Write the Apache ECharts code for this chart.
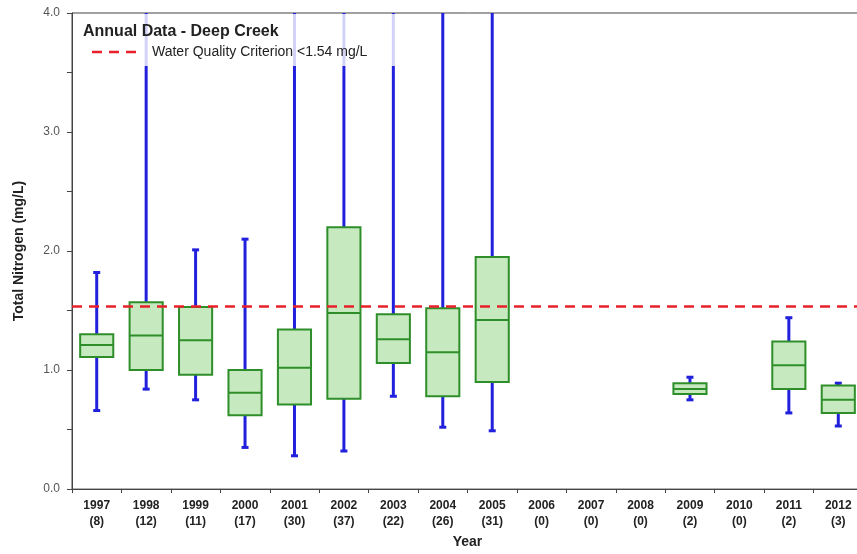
<!DOCTYPE html>
<html><head><meta charset="utf-8">
<script src="https://cdn.jsdelivr.net/npm/echarts@6/dist/echarts.min.js"></script>
<style>html,body{margin:0;padding:0;background:#fff;overflow:hidden}#c{width:863px;height:554px}</style>
</head><body><div id="c"></div>
<script>
const years = ['1997','1998','1999','2000','2001','2002','2003','2004','2005','2006','2007','2008','2009','2010','2011','2012'];
const counts = [8,12,11,17,30,37,22,26,31,0,0,0,2,0,2,3];
const whiskerLow  = [0.66,0.84,0.75,0.35,0.28,0.32,0.78,0.52,0.49,null,null,null,0.75,null,0.64,0.53];
const quartile1   = [1.11,1.00,0.96,0.62,0.71,0.76,1.06,0.78,0.90,null,null,null,0.80,null,0.84,0.64];
const medians     = [1.21,1.29,1.25,0.81,1.02,1.48,1.26,1.15,1.42,null,null,null,0.84,null,1.04,0.75];
const quartile3   = [1.30,1.57,1.53,1.00,1.34,2.20,1.47,1.52,1.95,null,null,null,0.89,null,1.24,0.87];
const whiskerHigh = [1.82,5.2,2.01,2.10,4.8,6.0,5.5,4.6,5.0,null,null,null,0.94,null,1.44,0.89];
const yTickLabels = ['0.0','1.0','2.0','3.0','4.0'];
const criterion = 1.54;

const boxData = [];
years.forEach((y, i) => {
  if (medians[i] !== null) boxData.push([i, whiskerLow[i], quartile1[i], medians[i], quartile3[i], whiskerHigh[i]]);
});

const chart = echarts.init(document.getElementById('c'), null, {renderer: 'canvas'});
const whiskerColor = '#2020dd';
const boxBorder = '#2e8f2a';
const boxFill = '#c6e9bf';

chart.setOption({
  animation: false,
  backgroundColor: '#ffffff',
  grid: {left: 72, right: 0, top: 13, bottom: 60, show: true, borderColor: '#444', borderWidth: 1},
  xAxis: {
    type: 'category', data: years,
    axisLine: {lineStyle: {color: '#444', width: 1}},
    axisTick: {show: true, length: 4, lineStyle: {color: '#444'}},
    axisLabel: {interval: 0, margin: 9, fontFamily: 'Liberation Sans, Arial', fontWeight: 'bold', fontSize: 12, lineHeight: 16, color: '#222',
      formatter: (v, i) => v + '\n(' + counts[i] + ')'},
    name: 'Year', nameLocation: 'middle', nameGap: 45,
    nameTextStyle: {fontFamily: 'Liberation Sans, Arial', fontWeight: 'bold', fontSize: 14, color: '#222'}
  },
  yAxis: {
    type: 'value', min: 0, max: 4, interval: 1,
    axisLine: {show: true, lineStyle: {color: '#444', width: 1}},
    axisTick: {show: true, length: 5, lineStyle: {color: '#444'}},
    minorTick: {show: true, splitNumber: 2, length: 5, lineStyle: {color: '#444'}},
    splitLine: {show: false},
    axisLabel: {margin: 12, fontFamily: 'Liberation Sans, Arial', fontSize: 12, color: '#555',
      formatter: (v) => yTickLabels[Math.round(v)]},
    name: 'Total Nitrogen (mg/L)', nameLocation: 'middle', nameGap: 46,
    nameTextStyle: {fontFamily: 'Liberation Sans, Arial', fontWeight: 'bold', fontSize: 14, color: '#222'}
  },
  series: [{
    type: 'custom',
    clip: true,
    data: boxData,
    encode: {x: 0, y: [1,2,3,4,5]},
    renderItem: function (params, api) {
      const x = api.value(0);
      const lo = api.coord([x, api.value(1)]);
      const q1 = api.coord([x, api.value(2)]);
      const md = api.coord([x, api.value(3)]);
      const q3 = api.coord([x, api.value(4)]);
      const hi = api.coord([x, api.value(5)]);
      const cw = api.size([1, 0])[0];
      const bw = cw * 0.67;
      const cx = lo[0];
      const capW = 7;
      const wStyle = {stroke: whiskerColor, lineWidth: 3};
      return {type: 'group', children: [
        {type: 'line', shape: {x1: cx, y1: lo[1], x2: cx, y2: q1[1]}, style: wStyle},
        {type: 'line', shape: {x1: cx, y1: q3[1], x2: cx, y2: hi[1]}, style: wStyle},
        {type: 'line', shape: {x1: cx - capW/2, y1: lo[1], x2: cx + capW/2, y2: lo[1]}, style: wStyle},
        {type: 'line', shape: {x1: cx - capW/2, y1: hi[1], x2: cx + capW/2, y2: hi[1]}, style: wStyle},
        {type: 'rect', shape: {x: cx - bw/2, y: q3[1], width: bw, height: q1[1] - q3[1]},
          style: {fill: boxFill, stroke: boxBorder, lineWidth: 2}},
        {type: 'line', shape: {x1: cx - bw/2, y1: md[1], x2: cx + bw/2, y2: md[1]},
          style: {stroke: boxBorder, lineWidth: 2}}
      ]};
    },
    markLine: {
      silent: true, symbol: 'none', animation: false,
      label: {show: false},
      lineStyle: {color: '#e8202a', type: [10, 7], width: 2.5},
      data: [{yAxis: criterion}]
    },
    z: 2
  }],
  graphic: [
    {type: 'rect', left: 74, top: 14, z: 10, shape: {width: 326, height: 52},
      style: {fill: 'rgba(255,255,255,0.8)'}},
    {type: 'text', left: 83, top: 24, z: 11,
      style: {text: 'Annual Data - Deep Creek', font: 'bold 16px "Liberation Sans", Arial', fill: '#222'}},
    {type: 'line', z: 11, shape: {x1: 92, y1: 52, x2: 140, y2: 52},
      style: {stroke: '#e8202a', lineWidth: 2.5, lineDash: [10, 7]}},
    {type: 'text', left: 152, top: 45, z: 11,
      style: {text: 'Water Quality Criterion <1.54 mg/L', font: '14px "Liberation Sans", Arial', fill: '#222'}}
  ]
});
</script></body></html>
